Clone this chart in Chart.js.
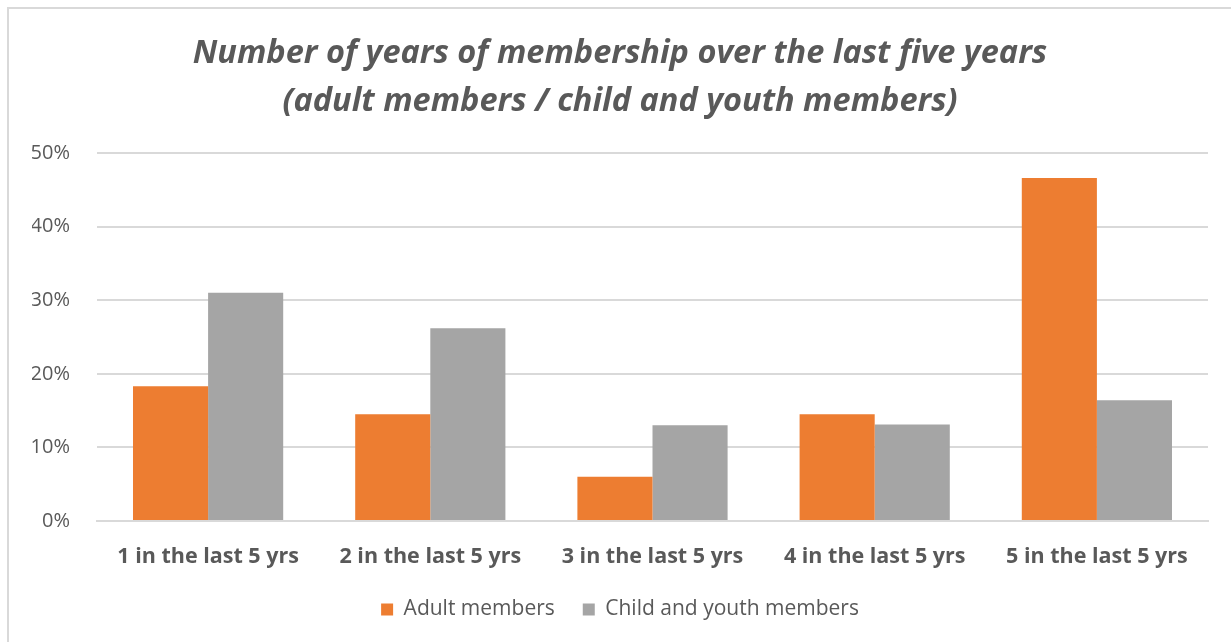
<!DOCTYPE html>
<html>
<head>
<meta charset="utf-8">
<script src="https://cdn.jsdelivr.net/npm/chart.js@4/dist/chart.umd.min.js"></script>
<style>
  html, body { margin: 0; padding: 0; background: #fff; }
  #wrap { position: relative; width: 1231px; height: 642px; overflow: hidden; }
  #frame { position: absolute; left: 7px; top: 7px; width: 1300px; height: 700px; border: 2px solid #d9d9d9; box-sizing: border-box; }
  canvas { position: absolute; left: 0; top: 0; }
</style>
</head>
<body>
<div id="wrap">
  <div id="frame"></div>
  <canvas id="c" width="1231" height="642"></canvas>
</div>
<script>
const categories = ["1 in the last 5 yrs", "2 in the last 5 yrs", "3 in the last 5 yrs", "4 in the last 5 yrs", "5 in the last 5 yrs"];
const adultMembers = [18.3, 14.5, 6.0, 14.5, 46.6];
const childYouthMembers = [31.0, 26.2, 13.0, 13.1, 16.4];
const titleLines = ["Number of years of membership over the last five years", "(adult members / child and youth members)"];
const seriesNames = ["Adult members", "Child and youth members"];

const FONT = "'Open Sans', sans-serif";
const TXT = '#595959';

new Chart(document.getElementById('c'), {
  type: 'bar',
  data: {
    labels: categories,
    datasets: [
      { label: seriesNames[0], data: adultMembers, backgroundColor: '#ED7D31', borderWidth: 0, categoryPercentage: 0.676, barPercentage: 1.0 },
      { label: seriesNames[1], data: childYouthMembers, backgroundColor: '#A5A5A5', borderWidth: 0, categoryPercentage: 0.676, barPercentage: 1.0 }
    ]
  },
  options: {
    responsive: false,
    animation: false,
    devicePixelRatio: 1,
    layout: { padding: { top: 4, left: 32, right: 23, bottom: 12 } },
    plugins: {
      title: {
        display: true,
        text: titleLines,
        color: TXT,
        font: { family: FONT, size: 32.5, style: 'italic', weight: 'bold', lineHeight: 1.477 },
        padding: { top: 26, bottom: 27 }
      },
      legend: {
        position: 'bottom',
        labels: {
          color: TXT,
          font: { family: FONT, size: 21 },
          boxWidth: 12, boxHeight: 12,
          padding: 28
        }
      },
      tooltip: { enabled: false }
    },
    scales: {
      x: {
        grid: { display: false, drawTicks: false },
        border: { display: true, color: '#d9d9d9', width: 2 },
        ticks: { color: TXT, font: { family: FONT, size: 21.5, weight: 'bold' }, padding: 23, maxRotation: 0 },
        afterFit: (scale) => { scale.height = 50; }
      },
      y: {
        min: 0, max: 50,
        grid: { color: '#d9d9d9', lineWidth: 2, drawTicks: false },
        border: { display: false },
        ticks: { stepSize: 10, color: TXT, font: { family: FONT, size: 20 }, padding: 27, callback: v => v + '%' },
        afterFit: (scale) => { scale.width = 65; }
      }
    }
  }
});
</script>
</body>
</html>
